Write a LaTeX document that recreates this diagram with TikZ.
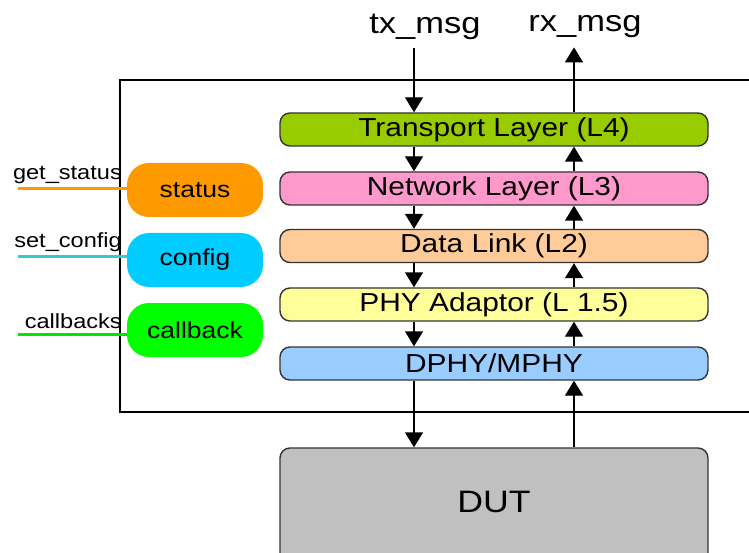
\documentclass[tikz,border=0pt]{standalone}
\usepackage{fontspec}
\setmainfont[FakeStretch = 1.15]{Liberation Sans}
\usetikzlibrary{arrows.meta}

\definecolor{transcol}{RGB}{153,204,0}
\definecolor{netcol}{RGB}{255,153,204}
\definecolor{dllcol}{RGB}{255,204,153}
\definecolor{phyacol}{RGB}{255,255,153}
\definecolor{phycol}{RGB}{153,204,255}
\definecolor{dutcol}{RGB}{192,192,192}
\definecolor{statuscol}{RGB}{255,153,0}
\definecolor{configcol}{RGB}{0,204,255}
\definecolor{callbackcol}{RGB}{0,255,0}
\definecolor{sclinecol}{RGB}{51,204,204}
\definecolor{cblinecol}{RGB}{0,230,0}

\tikzset{
	layer/.style = {draw = black!80, line width = 1.4pt, rounded corners = 10pt,
		minimum width = 428pt, minimum height = 33pt, inner sep = 0pt,
		font = \fontsize{26}{30}\selectfont},
	api/.style = {rounded corners = 22pt, minimum width = 136pt, minimum height = 54pt,
		inner sep = 0pt, font = \fontsize{23}{26}\selectfont},
	apiname/.style = {anchor = south east, inner sep = 0pt, font = \fontsize{20.5}{22}\selectfont},
	msg/.style = {inner sep = 0pt, font = \fontsize{30}{34}\selectfont},
	arr/.style = {line width = 1.4pt, -{Triangle[length = 15pt, width = 18pt]}}
}

\begin{document}
\begin{tikzpicture}[x = 1pt, y = -1pt]
		\useasboundingbox (0, 0) rectangle (749, 553) ;
		\clip (0, 0) rectangle (749, 553) ;
		% outer frame
		\draw [line width = 2pt] (120, 80) rectangle (770, 412) ;
		% layers
		\node [layer, fill = transcol] (trans) at (494, 129.5) {Transport Layer (L4)} ;
		\node [layer, fill = netcol] (net) at (494, 188.5) {Network Layer (L3)} ;
		\node [layer, fill = dllcol] (dll) at (494, 246) {Data Link (L2)} ;
		\node [layer, fill = phyacol] (phya) at (494, 304.5) {PHY Adaptor (L 1.5)} ;
		\node [layer, fill = phycol] (phy) at (494, 363.5) {DPHY/MPHY} ;
		\node [layer, fill = dutcol, minimum height = 180pt] (dut) at (494, 538) {} ;
		\node [msg, font = \fontsize{31}{36}\selectfont] (duttext) at (494, 502) {DUT} ;
		% messages
		\node [msg] (tx) at (425, 27) {tx\_msg} ;
		\node [msg] (rx) at (585, 27) {rx\_msg} ;
		\coordinate (dn) at (414, 0) ;
		\coordinate (up) at (574, 0) ;
		\draw [arr] ([yshift = -8pt] tx.south -| dn) -- (trans.north -| dn) ;
		\draw [arr] (trans.north -| up) -- ([yshift = -9pt] rx.south -| up) ;
		\foreach \a/\b in {trans/net, net/dll, dll/phya, phya/phy, phy/dut} {
			\draw [arr] (\a.south -| dn) -- (\b.north -| dn) ;
			\draw [arr] (\b.north -| up) -- (\a.south -| up) ;
		}
		% api boxes
		\node [api, fill = statuscol] (status) at (195, 190) {status} ;
		\node [api, fill = configcol] (config) at (195, 260) {config} ;
		\node [api, fill = callbackcol] (callback) at (195, 330) {callback} ;
		\coordinate (gs) at (18, 189) ;
		\coordinate (sc) at (18, 257) ;
		\coordinate (cb) at (18, 334) ;
		\draw [line width = 3pt, statuscol] (gs) -- (gs -| status.west) ;
		\draw [line width = 3pt, sclinecol] (sc) -- (sc -| config.west) ;
		\draw [line width = 3pt, cblinecol] (cb) -- (cb -| callback.west) ;
		\node [apiname] (gstext) at (122, 184) {get\_status} ;
		\node [apiname] (sctext) at (122, 252) {set\_config} ;
		\node [apiname] (cbtext) at (122, 329) {callbacks} ;
	\end{tikzpicture}
\end{document}
